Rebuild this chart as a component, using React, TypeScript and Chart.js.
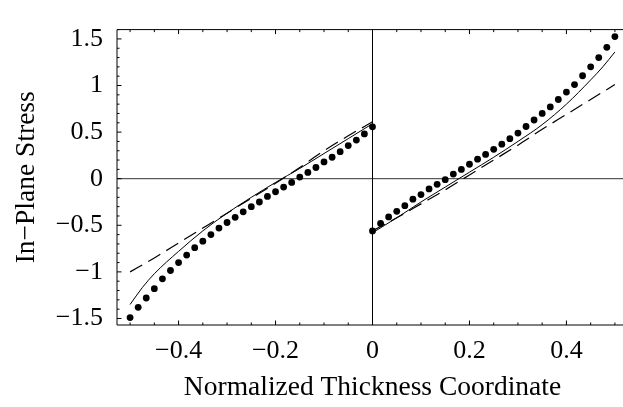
import { useEffect, useRef } from "react";
import { Chart, registerables } from "chart.js";

Chart.register(...registerables);

// ---- data ----
const dotXLeft = [
  -0.5, -0.4833, -0.4667, -0.45, -0.4333, -0.4167, -0.4, -0.3833, -0.3667, -0.35,
  -0.3333, -0.3167, -0.3, -0.2833, -0.2667, -0.25, -0.2333, -0.2167, -0.2, -0.1833,
  -0.1667, -0.15, -0.1333, -0.1167, -0.1, -0.0833, -0.0667, -0.05, -0.0333, -0.0167, 0,
];
const dotYLeft = [
  -1.49, -1.38, -1.28, -1.18, -1.075, -0.985, -0.9, -0.82, -0.74, -0.67,
  -0.6, -0.53, -0.47, -0.415, -0.355, -0.3, -0.25, -0.19, -0.14, -0.09,
  -0.04, 0.017, 0.067, 0.12, 0.18, 0.23, 0.29, 0.355, 0.415, 0.48, 0.557,
];
const dotXRight = [
  0, 0.0167, 0.0333, 0.05, 0.0667, 0.0833, 0.1, 0.1167, 0.1333, 0.15,
  0.1667, 0.1833, 0.2, 0.2167, 0.2333, 0.25, 0.2667, 0.2833, 0.3, 0.3167,
  0.3333, 0.35, 0.3667, 0.3833, 0.4, 0.4167, 0.4333, 0.45, 0.4667, 0.4833, 0.5,
];
const dotYRight = [
  -0.56, -0.48, -0.41, -0.35, -0.29, -0.22, -0.17, -0.11, -0.06, -0.01,
  0.05, 0.1, 0.155, 0.21, 0.26, 0.315, 0.37, 0.43, 0.49, 0.56,
  0.63, 0.7, 0.77, 0.85, 0.93, 1.01, 1.105, 1.2, 1.3, 1.41, 1.525,
];

const solidXLeft = [-0.5, -0.475, -0.45, -0.4, -0.35, -0.3, -0.25, -0.2, -0.15, -0.1, -0.05, 0];
const solidYLeft = [-1.35, -1.17, -1.02, -0.78, -0.56, -0.37, -0.2, -0.04, 0.11, 0.27, 0.43, 0.59];
const solidXRight = [0, 0.05, 0.1, 0.15, 0.2, 0.25, 0.3, 0.35, 0.4, 0.45, 0.475, 0.5];
const solidYRight = [-0.58, -0.42, -0.25, -0.09, 0.07, 0.23, 0.4, 0.58, 0.8, 1.06, 1.2, 1.36];

const dashXLeft = [-0.5, -0.45, -0.4, -0.35, -0.3, -0.25, -0.2, -0.15, -0.1, -0.05, 0];
const dashYLeft = [-1.0, -0.85, -0.69, -0.53, -0.37, -0.21, -0.05, 0.12, 0.3, 0.46, 0.61];
const dashXRight = [0, 0.05, 0.1, 0.15, 0.2, 0.25, 0.3, 0.35, 0.4, 0.45, 0.5];
const dashYRight = [-0.56, -0.42, -0.27, -0.12, 0.04, 0.2, 0.36, 0.53, 0.69, 0.85, 1.01];

const xMajorTicks = [-0.4, -0.2, 0, 0.2, 0.4];
const xMinorTicks = [
  -0.5, -0.45, -0.35, -0.3, -0.25, -0.15, -0.1, -0.05, 0.05, 0.1, 0.15, 0.25, 0.3, 0.35, 0.45, 0.5,
];
const yMajorTicks = [-1.5, -1, -0.5, 0, 0.5, 1, 1.5];
const yMinorTicks = [
  -1.4, -1.3, -1.2, -1.1, -0.9, -0.8, -0.7, -0.6, -0.4, -0.3, -0.2, -0.1,
  0.1, 0.2, 0.3, 0.4, 0.6, 0.7, 0.8, 0.9, 1.1, 1.2, 1.3, 1.4, 1.6,
];

const X_MIN = -0.527;
const X_MAX = 0.527;
const Y_MIN = -1.57;
const Y_MAX = 1.6;

const FONT = "'Liberation Serif', 'DejaVu Serif', serif";

function zip(xs: number[], ys: number[]) {
  return xs.map((x, i) => ({ x, y: ys[i] }));
}

function fmt(v: number): string {
  if (Math.abs(v) < 1e-9) return "0";
  const s = String(Number(Math.abs(v).toFixed(2)));
  return (v < 0 ? "\u2212" : "") + s;
}

const framePlugin = {
  id: "mmaFrame",
  beforeDatasetsDraw(chart: any) {
    const { ctx, chartArea } = chart;
    const xs = chart.scales.x;
    const ys = chart.scales.y;
    ctx.save();
    ctx.lineWidth = 1;
    const x0 = xs.getPixelForValue(0);
    const y0 = ys.getPixelForValue(0);
    ctx.strokeStyle = "#333";
    ctx.beginPath();
    ctx.moveTo(chartArea.left, y0);
    ctx.lineTo(chartArea.right, y0);
    ctx.stroke();
    ctx.strokeStyle = "#000";
    ctx.beginPath();
    ctx.moveTo(x0, chartArea.top);
    ctx.lineTo(x0, chartArea.bottom);
    ctx.stroke();
    ctx.restore();
  },
  afterDatasetsDraw(chart: any) {
    const { ctx, chartArea } = chart;
    const xs = chart.scales.x;
    const ys = chart.scales.y;
    const { left, right, top, bottom } = chartArea;
    ctx.save();
    ctx.strokeStyle = "#000";
    ctx.lineWidth = 1;
    ctx.beginPath();
    ctx.moveTo(left, top);
    ctx.lineTo(right, top);
    ctx.moveTo(left, top);
    ctx.lineTo(left, bottom);
    ctx.moveTo(left, bottom);
    ctx.lineTo(right, bottom);
    ctx.moveTo(right, top);
    ctx.lineTo(right, bottom);
    const drawX = (vals: number[], len: number) => {
      vals.forEach((v) => {
        const p = xs.getPixelForValue(v);
        ctx.moveTo(p, bottom);
        ctx.lineTo(p, bottom - len);
        ctx.moveTo(p, top);
        ctx.lineTo(p, top + len);
      });
    };
    const drawY = (vals: number[], len: number) => {
      vals.forEach((v) => {
        const p = ys.getPixelForValue(v);
        ctx.moveTo(left, p);
        ctx.lineTo(left + len, p);
        ctx.moveTo(right, p);
        ctx.lineTo(right - len, p);
      });
    };
    drawX(xMajorTicks, 4.5);
    drawX(xMinorTicks, 2.5);
    drawY(yMajorTicks, 4.5);
    drawY(yMinorTicks, 2.5);
    ctx.stroke();
    ctx.restore();
  },
};

export default function App() {
  const ref = useRef<HTMLCanvasElement | null>(null);

  useEffect(() => {
    if (!ref.current) return;
    document.body.style.margin = "0";
    const chart = new Chart(ref.current, {
      type: "scatter",
      data: {
        datasets: [
          {
            data: zip(dotXLeft, dotYLeft),
            showLine: false,
            pointRadius: 3.4,
            pointBackgroundColor: "#000",
            pointBorderWidth: 0,
            borderColor: "#000",
          },
          {
            data: zip(dotXRight, dotYRight),
            showLine: false,
            pointRadius: 3.4,
            pointBackgroundColor: "#000",
            pointBorderWidth: 0,
            borderColor: "#000",
          },
          {
            data: zip(solidXLeft, solidYLeft),
            showLine: true,
            pointRadius: 0,
            borderColor: "#000",
            borderWidth: 1,
            cubicInterpolationMode: "monotone",
          },
          {
            data: zip(solidXRight, solidYRight),
            showLine: true,
            pointRadius: 0,
            borderColor: "#000",
            borderWidth: 1,
            cubicInterpolationMode: "monotone",
          },
          {
            data: zip(dashXLeft, dashYLeft),
            showLine: true,
            pointRadius: 0,
            borderColor: "#000",
            borderWidth: 1.2,
            borderDash: [14, 7],
            cubicInterpolationMode: "monotone",
          },
          {
            data: zip(dashXRight, dashYRight),
            showLine: true,
            pointRadius: 0,
            borderColor: "#000",
            borderWidth: 1.2,
            borderDash: [14, 7],
            cubicInterpolationMode: "monotone",
          },
        ],
      } as any,
      options: {
        animation: false,
        responsive: false,
        devicePixelRatio: 1,
        layout: { padding: { top: 9, right: 12, left: 0, bottom: 0 } },
        plugins: {
          legend: { display: false },
          tooltip: { enabled: false },
        },
        scales: {
          x: {
            type: "linear",
            min: X_MIN,
            max: X_MAX,
            afterBuildTicks: (s: any) => {
              s.ticks = xMajorTicks.map((v) => ({ value: v }));
            },
            afterFit: (s: any) => {
              s.height = 82;
            },
            grid: { display: false, drawTicks: false },
            border: { display: false },
            ticks: {
              autoSkip: false,
              maxRotation: 0,
              padding: 11,
              color: "#000",
              font: { family: FONT, size: 26 },
              callback: (v: any) => fmt(Number(v)),
            },
            title: {
              display: true,
              text: "Normalized Thickness Coordinate",
              color: "#000",
              font: { family: FONT, size: 27.5 },
              padding: { top: 0, bottom: 3 },
            },
          },
          y: {
            type: "linear",
            min: Y_MIN,
            max: Y_MAX,
            afterBuildTicks: (s: any) => {
              s.ticks = yMajorTicks.map((v) => ({ value: v }));
            },
            afterFit: (s: any) => {
              s.width = 117;
            },
            grid: { display: false, drawTicks: false },
            border: { display: false },
            ticks: {
              autoSkip: false,
              padding: 14,
              color: "#000",
              font: { family: FONT, size: 26 },
              callback: (v: any) => fmt(Number(v)),
            },
            title: {
              display: true,
              text: "In\u2212Plane Stress",
              color: "#000",
              font: { family: FONT, size: 27.5 },
              padding: { top: 10, bottom: 0 },
            },
          },
        },
      } as any,
      plugins: [framePlugin],
    });
    return () => chart.destroy();
  }, []);

  return (
    <div
      style={{
        position: "absolute",
        left: 0,
        top: 0,
        width: 623,
        height: 407,
        overflow: "hidden",
        background: "#fff",
      }}
    >
      <canvas ref={ref} width={640} height={407} style={{ display: "block", width: 640, height: 407 }} />
    </div>
  );
}
